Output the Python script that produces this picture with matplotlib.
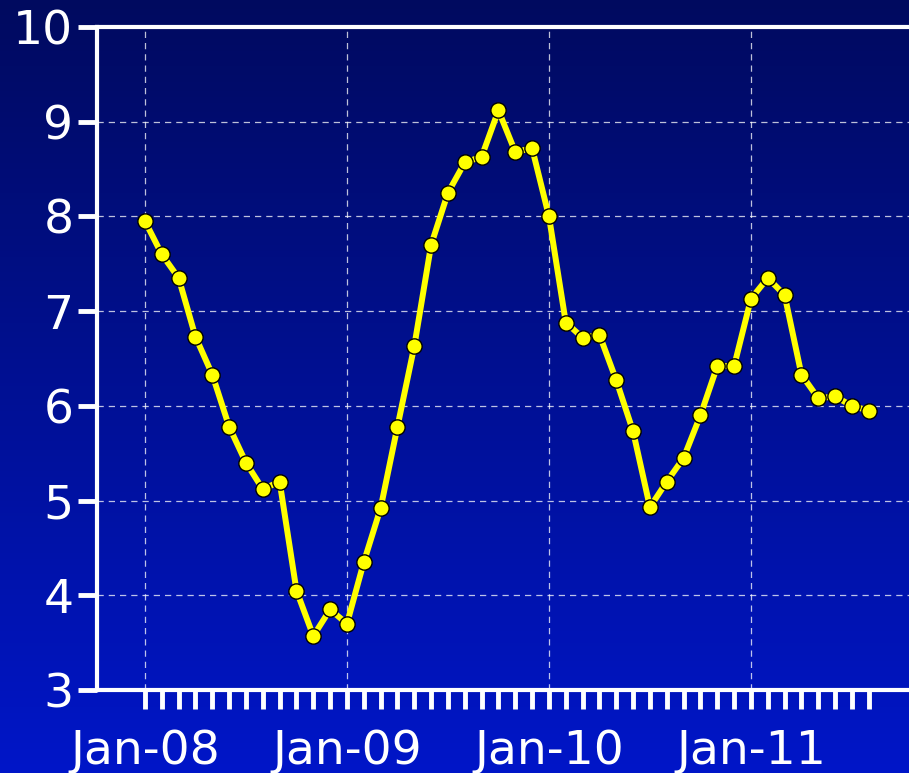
import numpy as np
import matplotlib.pyplot as plt

# monthly values, Jan-08 .. Aug-11
values = [7.95, 7.6, 7.35, 6.73, 6.33, 5.78, 5.4, 5.12, 5.2, 4.05, 3.57, 3.85,
          3.7, 4.35, 4.92, 5.78, 6.63, 7.7, 8.25, 8.57, 8.63, 9.12, 8.68, 8.72,
          8.0, 6.88, 6.72, 6.75, 6.27, 5.73, 4.93, 5.2, 5.45, 5.9, 6.42, 6.42,
          7.13, 7.35, 7.17, 6.33, 6.08, 6.1, 6.0, 5.95]
year_labels = ['Jan-08', 'Jan-09', 'Jan-10', 'Jan-11']
y_ticks = [3, 4, 5, 6, 7, 8, 9, 10]

months = np.arange(len(values))

fig = plt.figure(figsize=(9.09, 7.73), dpi=100)

# gradient background
bg = fig.add_axes([0, 0, 1, 1])
grad = np.linspace(0, 1, 256).reshape(-1, 1)
top = np.array([0, 10, 95]) / 255
bottom = np.array([0, 22, 200]) / 255
img = top + (bottom - top) * grad[:, :, None]
bg.imshow(img, aspect='auto', extent=[0, 1, 0, 1])
bg.axis('off')

ax = fig.add_axes([97 / 909, 83 / 773, 1 - 97 / 909 + 0.01, 663 / 773])
ax.patch.set_alpha(0)

ax.plot(months, values, color='#ffff00', lw=4.3, marker='o', ms=11,
        mfc='#ffff00', mec='black', mew=1, zorder=3)

ax.set_xlim(-2.85, 45.93)
ax.set_ylim(3, 10)
ax.set_yticks(y_ticks)
ax.set_xticks(range(0, 48, 12))
ax.set_xticklabels(year_labels)
ax.set_xticks(months, minor=True)

for s in ['left', 'bottom', 'top']:
    ax.spines[s].set_color('white')
    ax.spines[s].set_linewidth(3)
ax.spines['right'].set_visible(False)

ax.tick_params(axis='both', which='both', colors='white', width=3.5,
               labelsize=34, direction='out')
ax.tick_params(axis='x', which='both', length=14, pad=14)
ax.tick_params(axis='y', length=14, pad=3)

ax.grid(True, color='white', ls='--', lw=0.9, alpha=0.75, dashes=(5, 4))
for t in ax.xaxis.get_ticklines(minor=True) + ax.xaxis.get_ticklines():
    t.set_solid_capstyle('round')

fig.savefig('out.png', dpi=100)
